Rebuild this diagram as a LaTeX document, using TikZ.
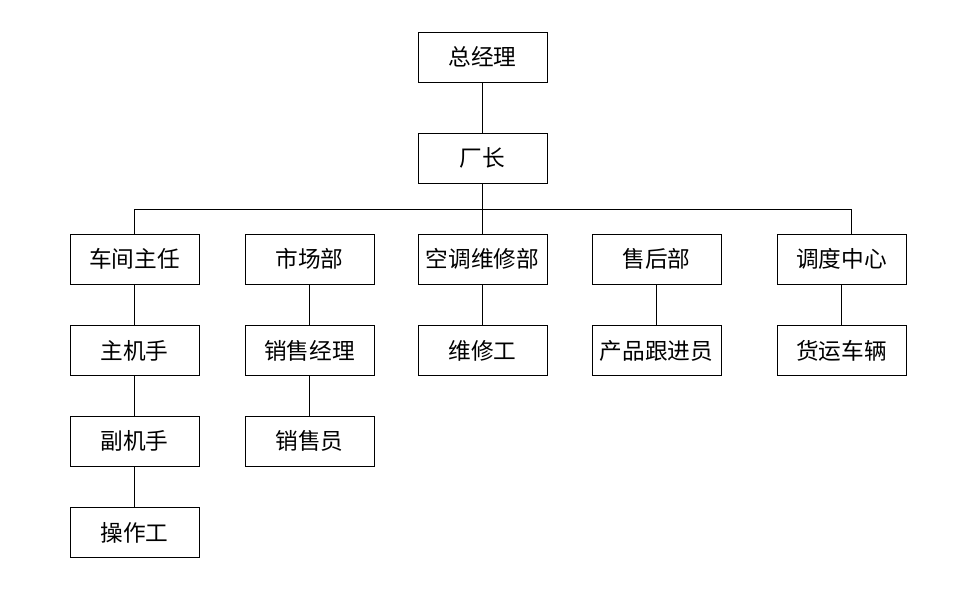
\documentclass[tikz,border=0pt]{standalone}
\usepackage{fontspec}
\setmainfont{Noto Sans CJK SC}
\usetikzlibrary{positioning}
\tikzset{
  unit/.style={draw, line width=0.6pt, minimum width=96.75pt, minimum height=37.5pt,
    inner sep=0pt, font=\fontsize{17}{20}\selectfont},
  link/.style={line width=0.6pt}
}
\begin{document}
\begin{tikzpicture}[x=0.75pt, y=-0.75pt]
    % frame of the page
    \useasboundingbox (0,0) rectangle (964,613);

    % top of the chart
    \node[unit] (gm)   at (482.5,57)  {总经理};
    \node[unit] (head) at (482.5,158) {厂长};

    % departments
    \node[unit] (shop)  at (134.5,259) {车间主任};
    \node[unit] (mkt)   at (309.5,259) {市场部};
    \node[unit] (ac)    at (482.5,259) {空调维修部};
    \node[unit] (after) at (656.5,259) {售后部};
    \node[unit] (disp)  at (841.5,259) {调度中心};

    % second row
    \node[unit] (main)   at (134.5,350.5) {主机手};
    \node[unit] (smgr)   at (309.5,350.5) {销售经理};
    \node[unit] (fixer)  at (482.5,350.5) {维修工};
    \node[unit] (follow) at (656.5,350.5) {产品跟进员};
    \node[unit] (truck)  at (841.5,350.5) {货运车辆};

    % third and fourth rows
    \node[unit] (sub)   at (134.5,441) {副机手};
    \node[unit] (sales) at (309.5,441) {销售员};
    \node[unit] (op)    at (134.5,532.5) {操作工};

    % bus line
    \coordinate (bl) at (134.5,209);
    \coordinate (br) at (851,209);
    \coordinate (bd) at (851,234);
    \draw[link] (gm) -- (head);
    \draw[link] (head) -- (ac);
    \draw[link] (shop.north) -- (bl) -- (br) -- (bd);

    % columns
    \draw[link] (shop) -- (main);
    \draw[link] (main) -- (sub);
    \draw[link] (sub) -- (op);
    \draw[link] (mkt) -- (smgr);
    \draw[link] (smgr) -- (sales);
    \draw[link] (ac) -- (fixer);
    \draw[link] (after) -- (follow);
    \draw[link] (disp) -- (truck);
\end{tikzpicture}
\end{document}
